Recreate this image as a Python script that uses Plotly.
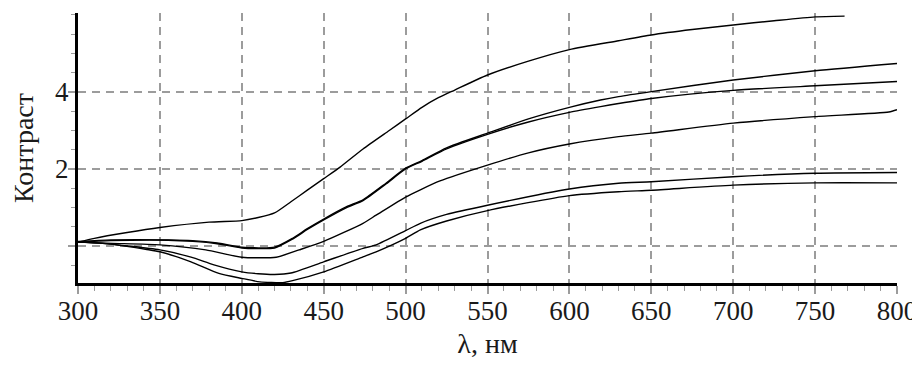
import plotly.graph_objects as go

# ---- data ----
x1 = [300, 310, 330, 350, 380, 400, 410, 420, 430, 440, 450, 460, 474, 490, 500, 510, 520, 530, 550, 575, 600, 630, 650, 675, 700, 725, 750, 768]
y1 = [0.10, 0.20, 0.35, 0.48, 0.62, 0.66, 0.74, 0.86, 1.15, 1.45, 1.75, 2.05, 2.52, 3.0, 3.3, 3.6, 3.85, 4.05, 4.44, 4.8, 5.1, 5.33, 5.48, 5.62, 5.74, 5.85, 5.95, 5.97]

x2 = [300, 320, 355, 370, 385, 400, 420, 431, 440, 450, 464, 474, 488, 500, 510, 525, 550, 575, 600, 619, 630, 650, 700, 750, 800]
y2 = [0.12, 0.16, 0.16, 0.14, 0.08, -0.03, -0.03, 0.2, 0.45, 0.7, 1.02, 1.2, 1.63, 2.02, 2.22, 2.55, 2.93, 3.3, 3.6, 3.79, 3.88, 4.01, 4.31, 4.55, 4.74]

x3 = [300, 320, 355, 370, 385, 400, 420, 431, 440, 450, 464, 474, 488, 500, 510, 525, 550, 575, 600, 619, 630, 650, 700, 750, 800]
y3 = [0.10, 0.14, 0.15, 0.12, 0.06, -0.05, -0.05, 0.18, 0.43, 0.68, 1.0, 1.18, 1.61, 2.0, 2.2, 2.52, 2.9, 3.22, 3.47, 3.62, 3.70, 3.83, 4.04, 4.16, 4.27]

x4 = [300, 321, 350, 378, 400, 421, 435, 450, 474, 482, 500, 509, 521, 550, 575, 600, 630, 650, 700, 750, 795, 800]
y4 = [0.10, 0.07, 0.03, -0.1, -0.29, -0.29, -0.1, 0.12, 0.59, 0.8, 1.27, 1.46, 1.69, 2.1, 2.42, 2.65, 2.84, 2.93, 3.19, 3.36, 3.48, 3.54]

x5 = [300, 315, 350, 369, 383, 400, 410, 420, 430, 450, 474, 482, 500, 509, 525, 550, 600, 630, 650, 700, 750, 800]
y5 = [0.10, 0.07, -0.1, -0.29, -0.49, -0.67, -0.72, -0.74, -0.7, -0.41, -0.06, 0.03, 0.4, 0.59, 0.82, 1.06, 1.48, 1.63, 1.67, 1.8, 1.89, 1.91]

x6 = [300, 320, 342, 350, 369, 386, 400, 411, 425, 431, 450, 474, 482, 500, 509, 525, 550, 600, 630, 650, 700, 750, 800]
y6 = [0.10, 0.05, -0.09, -0.15, -0.41, -0.71, -0.84, -0.93, -0.95, -0.9, -0.67, -0.28, -0.15, 0.2, 0.42, 0.65, 0.92, 1.31, 1.41, 1.45, 1.58, 1.64, 1.64]

x_ticks = [300, 350, 400, 450, 500, 550, 600, 650, 700, 750, 800]
y_ticks = [0, 2, 4]
y_tick_text = ["", "2", "4"]

series = [(x1, y1), (x2, y2), (x3, y3), (x4, y4), (x5, y5), (x6, y6)]

fig = go.Figure()
for xs, ys in series:
    fig.add_trace(go.Scatter(x=xs, y=ys, mode="lines",
                             line=dict(color="black", width=1.4, shape="spline", smoothing=0.6),
                             showlegend=False, hoverinfo="skip"))

font_family = "Liberation Serif"
grid_col = "#9c9c9c"
txt_col = "#1a1a1a"

# the page body has an 8px margin, so the figure sits at (8, 8);
# keep its height small enough that no scrollbar appears
fig.update_layout(
    width=912, height=351,
    margin=dict(l=70, r=23, t=5, b=76),
    paper_bgcolor="white", plot_bgcolor="white",
    font=dict(family=font_family, size=27, color=txt_col),
    xaxis=dict(
        range=[300, 800], tickvals=x_ticks, automargin=False,
        showline=True, linecolor="black", linewidth=3,
        ticks="outside", ticklen=8, tickcolor=grid_col, tickwidth=1.5,
        ticklabelstandoff=-6,
        showgrid=True, gridcolor=grid_col, gridwidth=1.5, griddash="8px,6px",
        zeroline=False,
        tickfont=dict(family=font_family, size=27, color=txt_col),
        title=dict(text="λ, нм", font=dict(family=font_family, size=28, color=txt_col), standoff=16),
        minor=dict(dtick=10, tick0=300, ticks="outside", ticklen=5, tickcolor=grid_col, tickwidth=1.2, showgrid=False),
    ),
    yaxis=dict(
        range=[-0.96, 6.05], tickvals=y_ticks, ticktext=y_tick_text, automargin=False,
        showline=True, linecolor="black", linewidth=3,
        ticks="outside", ticklen=7, tickcolor=grid_col, tickwidth=1.5,
        ticklabelstandoff=-6,
        showgrid=True, gridcolor=grid_col, gridwidth=1.5, griddash="8px,6px",
        zeroline=False,
        tickfont=dict(family=font_family, size=27, color=txt_col),
        title=dict(text="Контраст", font=dict(family=font_family, size=28, color=txt_col), standoff=14),
        minor=dict(dtick=0.5, tick0=0, ticks="outside", ticklen=4, tickcolor=grid_col, tickwidth=1.2, showgrid=False),
    ),
)

fig.write_html("out.html")
